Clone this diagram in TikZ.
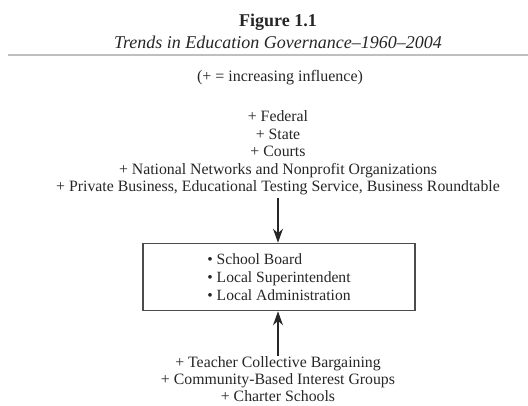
\documentclass[tikz,border=0pt]{standalone}
\usepackage{fontspec}
\setmainfont{Liberation Serif}
\usepackage{tikz}
\usetikzlibrary{arrows.meta, positioning, calc}

\begin{document}
\begin{tikzpicture}[
    x=1pt, y=-1pt,
    every node/.style={text=black!85},
    heading/.style={font=\fontsize{18}{20}\selectfont\bfseries, inner sep=0pt},
    subheading/.style={font=\fontsize{18}{20}\selectfont\itshape, inner sep=0pt},
    legend/.style={font=\fontsize{16}{18}\selectfont, inner sep=0pt},
    influences/.style={align=center, font=\fontsize{15.8}{17.5}\selectfont, inner sep=3pt},
    box/.style={rectangle, draw=black!70, line width=1.6pt, minimum width=272pt, minimum height=67pt, align=left, font=\fontsize{15.6}{18}\selectfont},
    arrow/.style={-{Stealth[length=14pt,width=10pt]}, line width=1.5pt, draw=black!85}
]
    \useasboundingbox (0,0) rectangle (528,405);

    % Title
    \node[heading] (title) at (278,22) {Figure 1.1};
    \node[subheading] (subtitle) at (278,42) {Trends in Education Governance--1960--2004};
    \draw[black!25, line width=2pt] (8,55) -- (528,55);
    \node[legend] (legend) at (280,78) {(+ = increasing influence)};

    % Outside influences
    \node[influences] (upper) at (278,153) {+ Federal\\+ State\\+ Courts\\+ National Networks and Nonprofit Organizations\\+ Private Business, Educational Testing Service, Business Roundtable};

    % Local governance
    \node[box] (board) at (279,277) {\textbullet\ School Board\\\textbullet\ Local Superintendent\\\textbullet\ Local Administration};

    % Inside influences
    \node[influences, inner sep=1pt, font=\fontsize{15.8}{17}\selectfont] (lower) at (278,379.5) {+ Teacher Collective Bargaining\\+ Community-Based Interest Groups\\+ Charter Schools};

    % Arrows
    \draw[arrow] (upper) -- (upper |- board.north);
    \draw[arrow] (lower) -- (lower |- board.south);
\end{tikzpicture}
\end{document}
